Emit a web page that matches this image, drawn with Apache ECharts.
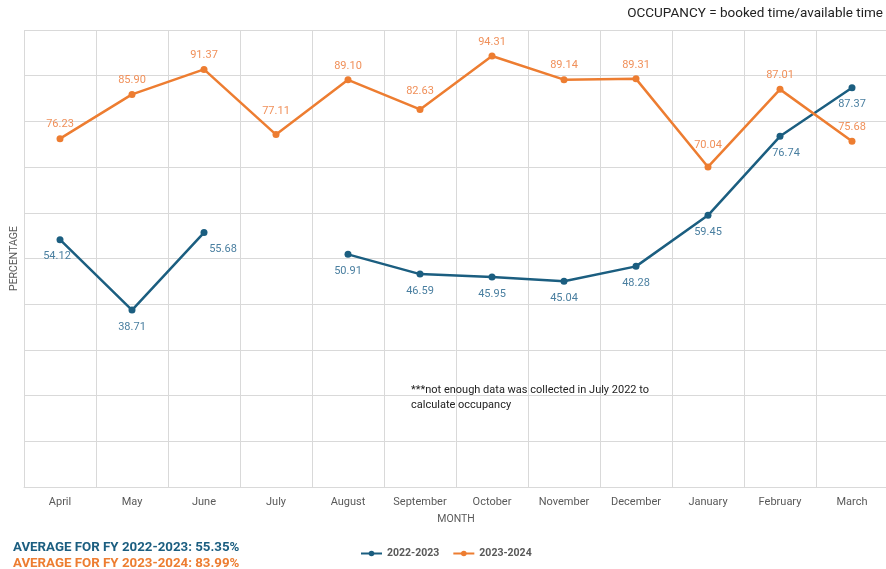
<!DOCTYPE html>
<html>
<head>
<meta charset="utf-8">
<script src="https://cdn.jsdelivr.net/npm/echarts@6/dist/echarts.min.js"></script>
<style>
  html, body { margin: 0; padding: 0; background: #fff; }
  #chart { width: 886px; height: 569px; }
</style>
</head>
<body>
<div id="chart"></div>
<script>
const months = ['April', 'May', 'June', 'July', 'August', 'September', 'October', 'November', 'December', 'January', 'February', 'March']
const fy2223 = [54.12, 38.71, 55.68, null, 50.91, 46.59, 45.95, 45.04, 48.28, 59.45, 76.74, 87.37]
const fy2324 = [76.23, 85.90, 91.37, 77.11, 89.10, 82.63, 94.31, 89.14, 89.31, 70.04, 87.01, 75.68]
const seriesNames = ['2022-2023', '2023-2024']

const blue = '#1b5e80'
const orange = '#ed7d31'
const font = 'Roboto, "Noto Sans", sans-serif'

// small label nudges, as in the original
const blueLabelShift = { 0: [-3, 0], 2: [19, 0], 10: [6, 0] }
const orangeLabelShift = { 3: [0, -9], 5: [0, -4], 9: [0, -8] }

function withShift(values, shifts) {
  return values.map((v, i) => shifts[i]
    ? { value: v, label: { offset: shifts[i] } }
    : v)
}

const myChart = echarts.init(document.getElementById('chart'))

myChart.setOption({
  textStyle: { fontFamily: font },
  animation: false,
  title: [
    {
      text: 'OCCUPANCY = booked time/available time',
      right: 3,
      top: 7,
      padding: 0,
      textStyle: { color: '#222', fontSize: 13.5, fontWeight: 'normal', fontFamily: font }
    },
    {
      text: 'AVERAGE FOR FY 2022-2023: 55.35%',
      left: 13,
      top: 541,
      padding: 0,
      textStyle: { color: blue, fontSize: 13.3, fontWeight: 'bold', fontFamily: font }
    },
    {
      text: 'AVERAGE FOR FY 2023-2024: 83.99%',
      left: 13,
      top: 557,
      padding: 0,
      textStyle: { color: orange, fontSize: 13.3, fontWeight: 'bold', fontFamily: font }
    },
    {
      text: '***not enough data was collected in July 2022 to\ncalculate occupancy',
      left: 411,
      top: 383,
      padding: 0,
      textStyle: { color: '#222', fontSize: 11, fontWeight: 'normal', lineHeight: 15, fontFamily: font }
    }
  ],
  grid: {
    left: 24,
    top: 30,
    width: 864,
    height: 457,
    outerBoundsMode: 'none'
  },
  legend: {
    data: seriesNames,
    left: 355,
    top: 543,
    itemWidth: 21,
    itemHeight: 7,
    itemGap: 13,
    textStyle: { color: '#595959', fontSize: 10.5, fontWeight: 'bold', fontFamily: font }
  },
  xAxis: {
    type: 'category',
    data: months,
    name: 'MONTH',
    nameLocation: 'middle',
    nameGap: 27,
    nameTextStyle: { color: '#595959', fontSize: 10.5 },
    axisLine: { lineStyle: { color: '#d9d9d9' } },
    axisTick: { alignWithLabel: true, length: 4, lineStyle: { color: '#d9d9d9' } },
    axisLabel: { color: '#595959', fontSize: 11, margin: 10 },
    splitLine: { show: true, lineStyle: { color: '#d9d9d9' } }
  },
  yAxis: {
    type: 'value',
    min: 0,
    max: 100,
    interval: 10,
    name: 'PERCENTAGE',
    nameLocation: 'middle',
    nameGap: 4,
    nameTextStyle: { color: '#595959', fontSize: 10.5 },
    axisLabel: { show: false },
    axisLine: { show: false },
    axisTick: { show: false },
    splitLine: { lineStyle: { color: '#d9d9d9' } }
  },
  series: [
    {
      name: seriesNames[0],
      type: 'line',
      data: withShift(fy2223, blueLabelShift),
      connectNulls: false,
      symbol: 'circle',
      symbolSize: 7,
      itemStyle: { color: blue },
      lineStyle: { width: 2.5, color: blue },
      label: {
        show: true,
        position: 'bottom',
        distance: 8,
        color: '#4a7fa0',
        fontSize: 11,
        formatter: p => p.value == null ? '' : p.value.toFixed(2)
      }
    },
    {
      name: seriesNames[1],
      type: 'line',
      data: withShift(fy2324, orangeLabelShift),
      symbol: 'circle',
      symbolSize: 7,
      itemStyle: { color: orange },
      lineStyle: { width: 2.5, color: orange },
      label: {
        show: true,
        position: 'top',
        distance: 5,
        color: '#f0905a',
        fontSize: 11,
        formatter: p => p.value.toFixed(2)
      }
    }
  ]
})
</script>
</body>
</html>
